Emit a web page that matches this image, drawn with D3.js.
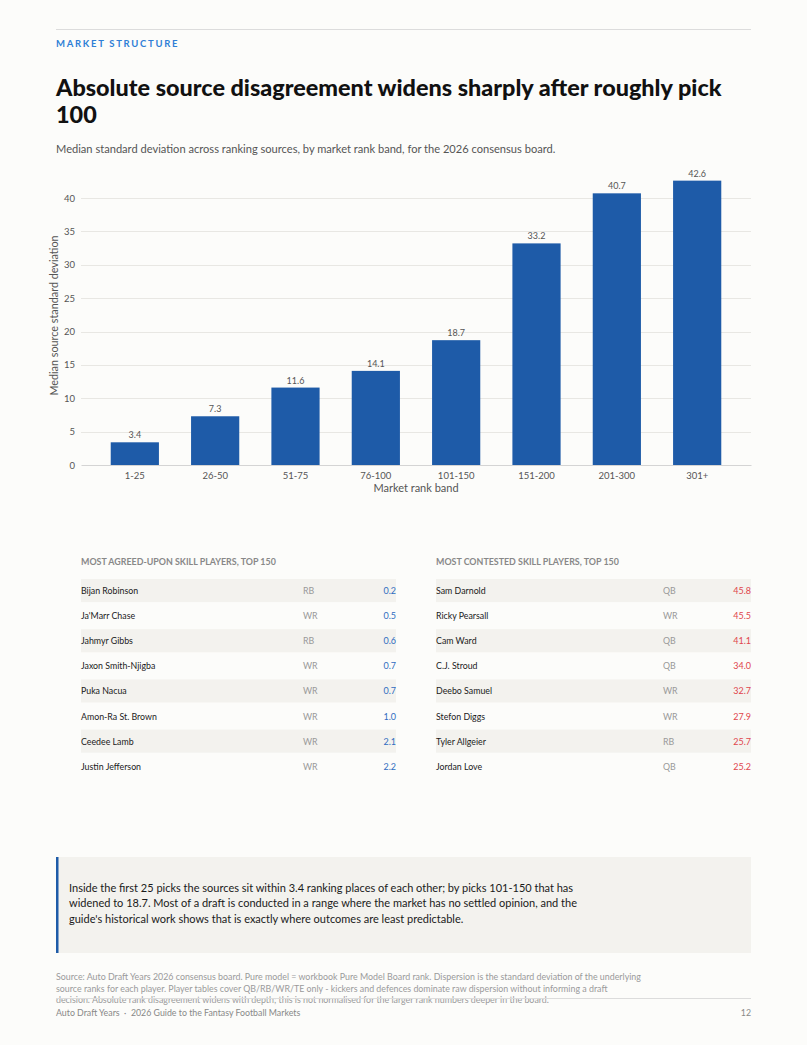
<!DOCTYPE html>
<html>
<head>
<meta charset="utf-8">
<script src="https://cdn.jsdelivr.net/npm/d3@7"></script>
<style>
  html, body { margin: 0; padding: 0; background: #fcfcfa; }
  svg { display: block; font-family: Lato, "Noto Sans", sans-serif; }
</style>
</head>
<body>
<div id="page"></div>
<script>
// chart data
var bands = ['1-25', '26-50', '51-75', '76-100', '101-150', '151-200', '201-300', '301+'];
var medianSd = [3.4, 7.3, 11.6, 14.1, 18.7, 33.2, 40.7, 42.6];
var yTicks = [0, 5, 10, 15, 20, 25, 30, 35, 40];

// player tables
var agreedNames = ['Bijan Robinson', "Ja'Marr Chase", 'Jahmyr Gibbs', 'Jaxon Smith-Njigba', 'Puka Nacua', 'Amon-Ra St. Brown', 'Ceedee Lamb', 'Justin Jefferson'];
var agreedPos = ['RB', 'WR', 'RB', 'WR', 'WR', 'WR', 'WR', 'WR'];
var agreedSd = [0.2, 0.5, 0.6, 0.7, 0.7, 1.0, 2.1, 2.2];

var contestedNames = ['Sam Darnold', 'Ricky Pearsall', 'Cam Ward', 'C.J. Stroud', 'Deebo Samuel', 'Stefon Diggs', 'Tyler Allgeier', 'Jordan Love'];
var contestedPos = ['QB', 'WR', 'QB', 'QB', 'WR', 'WR', 'RB', 'QB'];
var contestedSd = [45.8, 45.5, 41.1, 34.0, 32.7, 27.9, 25.7, 25.2];

var titleLines = ['Absolute source disagreement widens sharply after roughly pick', '100'];
var calloutLines = [
  'Inside the first 25 picks the sources sit within 3.4 ranking places of each other; by picks 101-150 that has',
  'widened to 18.7. Most of a draft is conducted in a range where the market has no settled opinion, and the',
  "guide's historical work shows that is exactly where outcomes are least predictable."
];
var sourceLines = [
  'Source: Auto Draft Years 2026 consensus board. Pure model = workbook Pure Model Board rank. Dispersion is the standard deviation of the underlying',
  'source ranks for each player. Player tables cover QB/RB/WR/TE only - kickers and defences dominate raw dispersion without informing a draft',
  'decision. Absolute rank disagreement widens with depth; this is not normalised for the larger rank numbers deeper in the board.'
];

var W = 807, H = 1045;
var left = 56, right = 751;

var svg = d3.select('#page').append('svg')
  .attr('width', W)
  .attr('height', H);

svg.append('rect').attr('width', W).attr('height', H).attr('fill', '#fcfcfa');

// header
svg.append('line')
  .attr('x1', left).attr('x2', right).attr('y1', 29.5).attr('y2', 29.5)
  .attr('stroke', '#dcdcdc');

svg.append('text')
  .attr('x', left).attr('y', 47)
  .attr('fill', '#2f7fd6')
  .attr('font-size', 9.5)
  .attr('font-weight', 700)
  .attr('letter-spacing', 1.7)
  .text('MARKET STRUCTURE');

svg.append('g').selectAll('text')
  .data(titleLines)
  .enter().append('text')
  .attr('x', left)
  .attr('y', function(d, i){ return 96 + i * 26.5; })
  .attr('fill', '#111')
  .attr('font-size', 23.4)
  .attr('font-weight', 900)
  .text(function(d){ return d; });

svg.append('text')
  .attr('x', left).attr('y', 153)
  .attr('fill', '#555')
  .attr('font-size', 11.1)
  .text('Median standard deviation across ranking sources, by market rank band, for the 2026 consensus board.');

// bar chart
var plot = { x0: 81, x1: 751, y0: 465, y1: 198 };

var x = d3.scaleBand()
  .domain(bands)
  .range([plot.x0, plot.x1])
  .paddingInner(0.4)
  .paddingOuter(0.37);

var y = d3.scaleLinear()
  .domain([0, 40])
  .range([plot.y0, plot.y1]);

var chart = svg.append('g');

chart.append('g')
  .selectAll('line')
  .data(yTicks.filter(function(t){ return t > 0; }))
  .enter().append('line')
  .attr('x1', plot.x0).attr('x2', plot.x1)
  .attr('y1', function(d){ return Math.round(y(d)) + 0.5; })
  .attr('y2', function(d){ return Math.round(y(d)) + 0.5; })
  .attr('stroke', '#e8e7e3');

var yAxis = chart.append('g')
  .attr('transform', 'translate(' + plot.x0 + ',0)')
  .call(d3.axisLeft(y).tickValues(yTicks).tickSize(0).tickPadding(6));
yAxis.select('.domain').remove();
yAxis.selectAll('text')
  .attr('fill', '#555')
  .attr('font-size', 9.5)
  .attr('font-family', 'Lato, sans-serif');

chart.append('g')
  .selectAll('rect')
  .data(medianSd)
  .enter().append('rect')
  .attr('x', function(d, i){ return x(bands[i]); })
  .attr('width', x.bandwidth())
  .attr('y', function(d){ return y(d); })
  .attr('height', function(d){ return y(0) - y(d); })
  .attr('fill', '#1e5ba8');

chart.append('g')
  .selectAll('text')
  .data(medianSd)
  .enter().append('text')
  .attr('x', function(d, i){ return x(bands[i]) + x.bandwidth() / 2; })
  .attr('y', function(d){ return y(d) - 4; })
  .attr('text-anchor', 'middle')
  .attr('fill', '#555')
  .attr('font-size', 9)
  .text(function(d){ return d.toFixed(1); });

var xAxis = chart.append('g')
  .attr('transform', 'translate(0,' + plot.y0 + ')')
  .call(d3.axisBottom(x).tickSize(0).tickPadding(7));
xAxis.select('.domain').attr('stroke', '#d4d4d4');
xAxis.selectAll('text')
  .attr('fill', '#555')
  .attr('font-size', 9.5)
  .attr('font-family', 'Lato, sans-serif');

chart.append('text')
  .attr('x', (plot.x0 + plot.x1) / 2).attr('y', 492)
  .attr('text-anchor', 'middle')
  .attr('fill', '#555')
  .attr('font-size', 11)
  .text('Market rank band');

chart.append('text')
  .attr('transform', 'translate(58,' + ((plot.y0 + plot.y1) / 2 - 16) + ') rotate(-90)')
  .attr('text-anchor', 'middle')
  .attr('fill', '#555')
  .attr('font-size', 10.8)
  .text('Median source standard deviation');

// tables
function drawTable(x0, title, names, pos, vals, valColor, posX) {
  var g = svg.append('g');
  var rowH = 25.1, top = 579, w = 315;
  var ry = d3.scaleLinear().domain([0, 1]).range([top, top + rowH]);

  g.append('text')
    .attr('x', x0).attr('y', 565)
    .attr('fill', '#888')
    .attr('font-size', 8.9)
    .attr('font-weight', 700)
    .text(title);

  var rows = g.selectAll('g.row')
    .data(names)
    .enter().append('g')
    .attr('transform', function(d, i){ return 'translate(0,' + ry(i) + ')'; });

  rows.append('rect')
    .attr('x', x0).attr('width', w)
    .attr('height', rowH - 2)
    .attr('fill', function(d, i){ return i % 2 === 0 ? '#f3f2ee' : 'none'; });

  rows.append('text')
    .attr('x', x0).attr('y', 15)
    .attr('fill', '#1a1a1a')
    .attr('font-size', 8.8)
    .text(function(d){ return d; });

  rows.append('text')
    .attr('x', posX).attr('y', 15)
    .attr('fill', '#999')
    .attr('font-size', 8.8)
    .text(function(d, i){ return pos[i]; });

  rows.append('text')
    .attr('x', x0 + w).attr('y', 15)
    .attr('text-anchor', 'end')
    .attr('fill', valColor)
    .attr('font-size', 9)
    .text(function(d, i){ return vals[i].toFixed(1); });
}

drawTable(81, 'MOST AGREED-UPON SKILL PLAYERS, TOP 150', agreedNames, agreedPos, agreedSd, '#2f6cc0', 303);
drawTable(436, 'MOST CONTESTED SKILL PLAYERS, TOP 150', contestedNames, contestedPos, contestedSd, '#e0454c', 663);

// callout
svg.append('rect')
  .attr('x', left).attr('y', 857)
  .attr('width', right - left).attr('height', 96)
  .attr('fill', '#f3f2ee');
svg.append('rect')
  .attr('x', left).attr('y', 857)
  .attr('width', 2.5).attr('height', 96)
  .attr('fill', '#1e5ba8');

svg.append('g').selectAll('text')
  .data(calloutLines)
  .enter().append('text')
  .attr('x', 69)
  .attr('y', function(d, i){ return 892 + i * 15.3; })
  .attr('fill', '#1a1a1a')
  .attr('font-size', 11)
  .text(function(d){ return d; });

// source + footer
svg.append('g').selectAll('text')
  .data(sourceLines)
  .enter().append('text')
  .attr('x', left)
  .attr('y', function(d, i){ return 980 + i * 11.6; })
  .attr('fill', '#9a9a9a')
  .attr('font-size', 8.85)
  .text(function(d){ return d; });

svg.append('line')
  .attr('x1', left).attr('x2', right).attr('y1', 998.5).attr('y2', 998.5)
  .attr('stroke', '#dcdcdc');

svg.append('text')
  .attr('x', left).attr('y', 1016)
  .attr('fill', '#888')
  .attr('font-size', 8.8)
  .attr('xml:space', 'preserve')
  .text('Auto Draft Years  \u00b7  2026 Guide to the Fantasy Football Markets');

svg.append('text')
  .attr('x', right).attr('y', 1016)
  .attr('text-anchor', 'end')
  .attr('fill', '#888')
  .attr('font-size', 8.8)
  .text('12');
</script>
</body>
</html>
